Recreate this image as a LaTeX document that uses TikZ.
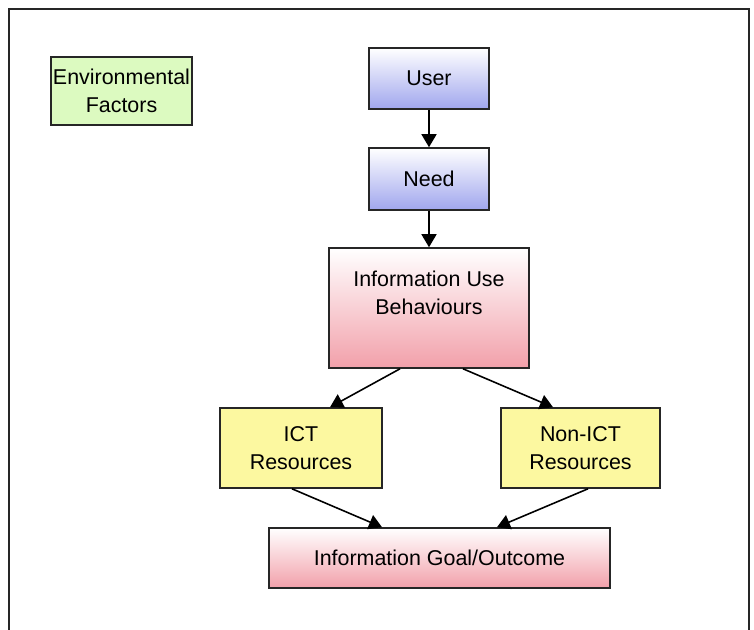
\documentclass[tikz,border=0pt]{standalone}
\usepackage{fontspec}
\setmainfont{Liberation Sans}
\usetikzlibrary{arrows.meta}

\definecolor{envgreen}{RGB}{220,250,192}
\definecolor{resyellow}{RGB}{252,248,160}
\definecolor{userblue}{RGB}{160,166,238}
\definecolor{goalpink}{RGB}{242,160,170}

\begin{document}
\begin{tikzpicture}[x=0.02cm,y=-0.02cm,
	box/.style={draw=black!85,line width=0.9pt,inner sep=0pt,align=center,font=\fontsize{12.2}{16}\selectfont},
	bluebox/.style={box,top color=white,bottom color=userblue},
	pinkbox/.style={box,top color=white,bottom color=goalpink},
	arr/.style={-{Triangle[length=2.6mm,width=3mm]},line width=0.9pt}]
			\clip (0,0) rectangle (754,629);
			\draw[line width=0.9pt,draw=black!85] (9,660) -- (9,9) -- (749,9) -- (749,660); % Outer frame
			
			\node[box,fill=envgreen,minimum width=2.82cm,minimum height=1.36cm] (env) at (121.5,91) {Environmental\\Factors}; % Environmental factors
			
			\node[bluebox,minimum width=2.4cm,minimum height=1.22cm] (user) at (429,78.5) {User}; % User
			\node[bluebox,minimum width=2.4cm,minimum height=1.24cm] (need) at (429,179) {Need}; % Need
			
			\node[box,top color=white,middle color=white,bottom color=goalpink,minimum width=4cm,minimum height=2.4cm] (iub) at (429,308) {}; % Information use behaviours
			\node[align=center,font=\fontsize{12.2}{16}\selectfont] (iubtext) at (429,293) {Information Use\\Behaviours}; % Label of the box
			
			\node[box,fill=resyellow,minimum width=3.24cm,minimum height=1.6cm] (ict) at (301,448) {ICT\\Resources}; % ICT resources
			\node[box,fill=resyellow,minimum width=3.18cm,minimum height=1.6cm] (nonict) at (580.5,448) {Non-ICT\\Resources}; % Non-ICT resources
			
			\node[pinkbox,minimum width=6.82cm,minimum height=1.2cm] (goal) at (439.5,558) {Information Goal/Outcome}; % Goal or outcome
			
			\draw[arr] (user) -- (need);
			\draw[arr] (need) -- (iub);
			\draw[arr] ([xshift=-0.58cm]iub.south) -- ([xshift=0.58cm]ict.north);
			\draw[arr] ([xshift=0.68cm]iub.south) -- ([xshift=-0.55cm]nonict.north);
			\draw[arr] ([xshift=-0.18cm]ict.south) -- ([xshift=-1.15cm]goal.north);
			\draw[arr] ([xshift=0.15cm]nonict.south) -- ([xshift=1.15cm]goal.north);
		\end{tikzpicture}
\end{document}
